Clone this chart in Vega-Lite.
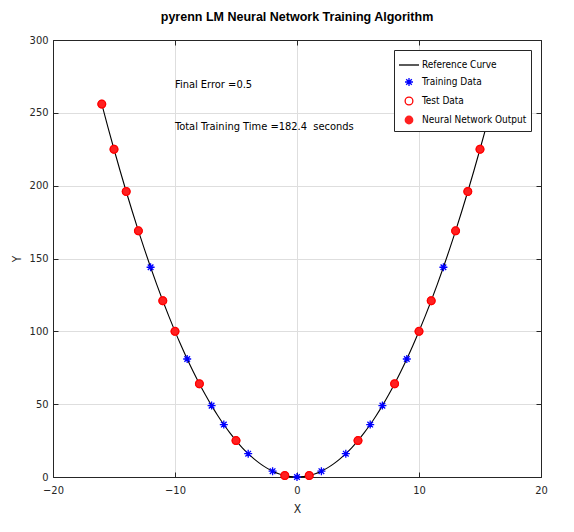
{
  "$schema": "https://vega.github.io/schema/vega-lite/v6.json",
  "width": 488,
  "height": 437,
  "autosize": {"type": "none"},
  "padding": {"left": 53, "top": 40, "right": 33, "bottom": 55},
  "background": "white",
  "title": {
    "text": "pyrenn LM Neural Network Training Algorithm",
    "font": "Liberation Sans",
    "fontSize": 12.5,
    "fontWeight": "bold",
    "color": "#000000",
    "offset": 11,
    "anchor": "middle"
  },
  "config": {
    "view": {"stroke": "#262626", "strokeWidth": 1},
    "axis": {
      "labelFont": "Liberation Sans Narrow, DejaVu Sans Condensed, sans-serif",
      "titleFont": "Liberation Sans Narrow, DejaVu Sans Condensed, sans-serif",
      "labelFontSize": 11,
      "titleFontSize": 12,
      "titleFontWeight": "normal",
      "labelColor": "#262626",
      "titleColor": "#262626",
      "domainColor": "#262626",
      "tickColor": "#262626",
      "gridColor": "#dedede",
      "tickSize": -5,
      "labelFlush": false
    }
  },
  "datasets": {
    "curve": [
      {"x": -16, "y": 256}, {"x": -15.5, "y": 240.25}, {"x": -15, "y": 225}, {"x": -14.5, "y": 210.25},
      {"x": -14, "y": 196}, {"x": -13.5, "y": 182.25}, {"x": -13, "y": 169}, {"x": -12.5, "y": 156.25},
      {"x": -12, "y": 144}, {"x": -11.5, "y": 132.25}, {"x": -11, "y": 121}, {"x": -10.5, "y": 110.25},
      {"x": -10, "y": 100}, {"x": -9.5, "y": 90.25}, {"x": -9, "y": 81}, {"x": -8.5, "y": 72.25},
      {"x": -8, "y": 64}, {"x": -7.5, "y": 56.25}, {"x": -7, "y": 49}, {"x": -6.5, "y": 42.25},
      {"x": -6, "y": 36}, {"x": -5.5, "y": 30.25}, {"x": -5, "y": 25}, {"x": -4.5, "y": 20.25},
      {"x": -4, "y": 16}, {"x": -3.5, "y": 12.25}, {"x": -3, "y": 9}, {"x": -2.5, "y": 6.25},
      {"x": -2, "y": 4}, {"x": -1.5, "y": 2.25}, {"x": -1, "y": 1}, {"x": -0.5, "y": 0.25},
      {"x": 0, "y": 0},
      {"x": 0.5, "y": 0.25}, {"x": 1, "y": 1}, {"x": 1.5, "y": 2.25}, {"x": 2, "y": 4},
      {"x": 2.5, "y": 6.25}, {"x": 3, "y": 9}, {"x": 3.5, "y": 12.25}, {"x": 4, "y": 16},
      {"x": 4.5, "y": 20.25}, {"x": 5, "y": 25}, {"x": 5.5, "y": 30.25}, {"x": 6, "y": 36},
      {"x": 6.5, "y": 42.25}, {"x": 7, "y": 49}, {"x": 7.5, "y": 56.25}, {"x": 8, "y": 64},
      {"x": 8.5, "y": 72.25}, {"x": 9, "y": 81}, {"x": 9.5, "y": 90.25}, {"x": 10, "y": 100},
      {"x": 10.5, "y": 110.25}, {"x": 11, "y": 121}, {"x": 11.5, "y": 132.25}, {"x": 12, "y": 144},
      {"x": 12.5, "y": 156.25}, {"x": 13, "y": 169}, {"x": 13.5, "y": 182.25}, {"x": 14, "y": 196},
      {"x": 14.5, "y": 210.25}, {"x": 15, "y": 225}, {"x": 15.5, "y": 240.25}, {"x": 16, "y": 256}
    ],
    "points": [
      {"x": -12, "y": 144, "series": "Training Data"},
      {"x": -9, "y": 81, "series": "Training Data"},
      {"x": -7, "y": 49, "series": "Training Data"},
      {"x": -6, "y": 36, "series": "Training Data"},
      {"x": -4, "y": 16, "series": "Training Data"},
      {"x": -2, "y": 4, "series": "Training Data"},
      {"x": 0, "y": 0, "series": "Training Data"},
      {"x": 2, "y": 4, "series": "Training Data"},
      {"x": 4, "y": 16, "series": "Training Data"},
      {"x": 6, "y": 36, "series": "Training Data"},
      {"x": 7, "y": 49, "series": "Training Data"},
      {"x": 9, "y": 81, "series": "Training Data"},
      {"x": 12, "y": 144, "series": "Training Data"},
      {"x": -16, "y": 256, "series": "Neural Network Output"},
      {"x": -15, "y": 225, "series": "Neural Network Output"},
      {"x": -14, "y": 196, "series": "Neural Network Output"},
      {"x": -13, "y": 169, "series": "Neural Network Output"},
      {"x": -11, "y": 121, "series": "Neural Network Output"},
      {"x": -10, "y": 100, "series": "Neural Network Output"},
      {"x": -8, "y": 64, "series": "Neural Network Output"},
      {"x": -5, "y": 25, "series": "Neural Network Output"},
      {"x": -1, "y": 1, "series": "Neural Network Output"},
      {"x": 1, "y": 1, "series": "Neural Network Output"},
      {"x": 5, "y": 25, "series": "Neural Network Output"},
      {"x": 8, "y": 64, "series": "Neural Network Output"},
      {"x": 10, "y": 100, "series": "Neural Network Output"},
      {"x": 11, "y": 121, "series": "Neural Network Output"},
      {"x": 13, "y": 169, "series": "Neural Network Output"},
      {"x": 14, "y": 196, "series": "Neural Network Output"},
      {"x": 15, "y": 225, "series": "Neural Network Output"},
      {"x": 16, "y": 256, "series": "Neural Network Output"},
      {"x": -16, "y": 256, "series": "Test Data"},
      {"x": -15, "y": 225, "series": "Test Data"},
      {"x": -14, "y": 196, "series": "Test Data"},
      {"x": -13, "y": 169, "series": "Test Data"},
      {"x": -11, "y": 121, "series": "Test Data"},
      {"x": -10, "y": 100, "series": "Test Data"},
      {"x": -8, "y": 64, "series": "Test Data"},
      {"x": -5, "y": 25, "series": "Test Data"},
      {"x": -1, "y": 1, "series": "Test Data"},
      {"x": 1, "y": 1, "series": "Test Data"},
      {"x": 5, "y": 25, "series": "Test Data"},
      {"x": 8, "y": 64, "series": "Test Data"},
      {"x": 10, "y": 100, "series": "Test Data"},
      {"x": 11, "y": 121, "series": "Test Data"},
      {"x": 13, "y": 169, "series": "Test Data"},
      {"x": 14, "y": 196, "series": "Test Data"},
      {"x": 15, "y": 225, "series": "Test Data"},
      {"x": 16, "y": 256, "series": "Test Data"}
    ],
    "notes": [
      {"x": -10, "y": 269, "label": "Final Error =0.5"},
      {"x": -10, "y": 240.5, "label": "Total Training Time =182.4\u00a0 seconds"}
    ]
  },
  "resolve": {"scale": {"x": "shared", "y": "shared"}, "axis": {"x": "independent", "y": "independent"}},
  "layer": [
    {
      "data": {"name": "curve"},
      "mark": {"type": "line", "color": "#000000", "strokeWidth": 1.1, "interpolate": "monotone"},
      "encoding": {
        "x": {"field": "x", "type": "quantitative", "scale": {"domain": [-20, 20], "nice": false},
          "axis": {"orient": "bottom", "title": "X", "values": [-20, -10, 0, 10, 20], "grid": true, "labelPadding": 12, "titlePadding": 8}},
        "y": {"field": "y", "type": "quantitative", "scale": {"domain": [0, 300], "nice": false},
          "axis": {"orient": "left", "title": "Y", "values": [0, 50, 100, 150, 200, 250, 300], "grid": true, "labelPadding": 10, "titlePadding": 6}}
      }
    },
    {
      "data": {"name": "points"},
      "mark": {"type": "point", "strokeWidth": 1.3, "opacity": 1},
      "encoding": {
        "x": {"field": "x", "type": "quantitative", "axis": null},
        "y": {"field": "y", "type": "quantitative", "axis": null},
        "stroke": {"field": "series", "type": "nominal",
          "scale": {"domain": ["Reference Curve", "Training Data", "Test Data", "Neural Network Output"], "range": ["#000000", "#0000ff", "#ff0000", "#ff2020"]},
          "legend": {
            "title": null,
            "orient": "top-right",
            "offset": 10,
            "fillColor": "white",
            "strokeColor": "#262626",
            "padding": 4,
            "rowPadding": 5,
            "labelOffset": 2,
            "labelFont": "Liberation Sans Narrow, DejaVu Sans Condensed, sans-serif",
            "labelFontSize": 10,
            "labelColor": "#000000",
            "symbolStrokeWidth": 1.3
          }},
        "fill": {"field": "series", "type": "nominal",
          "scale": {"domain": ["Reference Curve", "Training Data", "Test Data", "Neural Network Output"], "range": ["transparent", "#0000ff", "transparent", "#ff2020"]}},
        "shape": {"field": "series", "type": "nominal",
          "scale": {"domain": ["Reference Curve", "Training Data", "Test Data", "Neural Network Output"], "range": ["stroke", "M-1,0H1M0,-1V1M-0.7,-0.7L0.7,0.7M-0.7,0.7L0.7,-0.7", "circle", "circle"]}},
        "size": {"field": "series", "type": "nominal",
          "scale": {"type": "ordinal", "domain": ["Reference Curve", "Training Data", "Test Data", "Neural Network Output"], "range": [400, 64, 60, 56]}}
      }
    },
    {
      "data": {"name": "notes"},
      "mark": {"type": "text", "align": "left", "baseline": "middle", "font": "Liberation Sans Narrow, DejaVu Sans Condensed, sans-serif", "fontSize": 11, "color": "#000000"},
      "encoding": {
        "x": {"field": "x", "type": "quantitative",
          "axis": {"orient": "top", "title": null, "labels": false, "values": [-20, -10, 0, 10, 20], "grid": false}},
        "y": {"field": "y", "type": "quantitative",
          "axis": {"orient": "right", "title": null, "labels": false, "values": [0, 50, 100, 150, 200, 250, 300], "grid": false}},
        "text": {"field": "label"}
      }
    }
  ]
}
